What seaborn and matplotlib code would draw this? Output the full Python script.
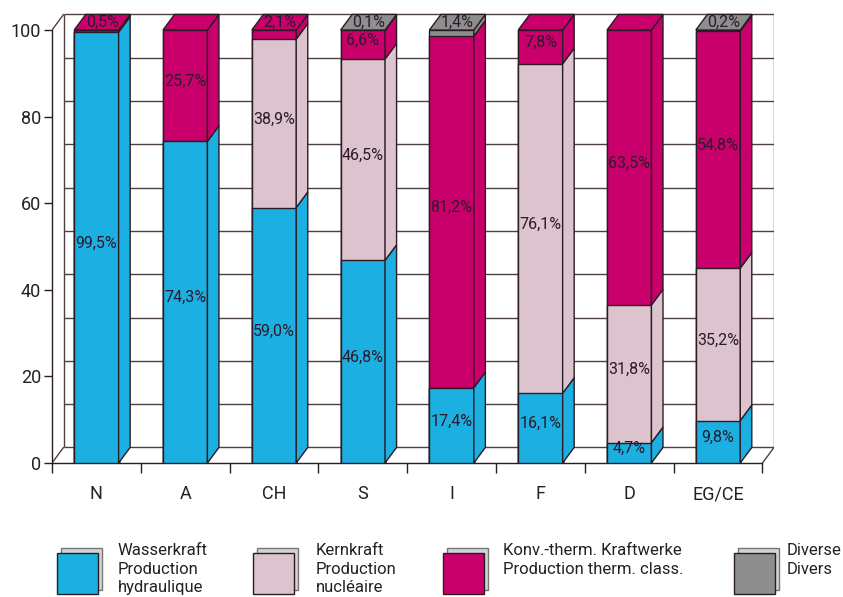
import numpy as np
import pandas as pd
import matplotlib
matplotlib.use('Agg')
import matplotlib.pyplot as plt
from matplotlib.patches import Polygon, Rectangle
import seaborn as sns

# data: share of electricity production per country (%)
countries = ['N', 'A', 'CH', 'S', 'I', 'F', 'D', 'EG/CE']
hydro = [99.5, 74.3, 59.0, 46.8, 17.4, 16.1, 4.7, 9.8]
nuclear = [0.0, 0.0, 38.9, 46.5, 0.0, 76.1, 31.8, 35.2]
thermal = [0.5, 25.7, 2.1, 6.6, 81.2, 7.8, 63.5, 54.8]
misc = [0.0, 0.0, 0.0, 0.1, 1.4, 0.0, 0.0, 0.2]
y_ticks = [0, 20, 40, 60, 80, 100]

legend_labels = ['Wasserkraft\nProduction\nhydraulique',
                 'Kernkraft\nProduction\nnucléaire',
                 'Konv.-therm. Kraftwerke\nProduction therm. class.',
                 'Diverse\nDivers']

#colours and pseudo 3d depth
colors = ['#1cb0e2', '#dcc3ce', '#c9006b', '#8e8e8e']
edge = '#2b1b24'
grid_col = '#4e3f42'
text_col = '#2a1a2a'
dx, dy = 0.13, 3.6
w = 0.5

sns.set_theme(style='white')
plt.rcParams['font.family'] = ['Roboto', 'DejaVu Sans']

df = pd.DataFrame({'country': countries, 'hydro': hydro, 'nuclear': nuclear,
                   'thermal': thermal, 'misc': misc})
series = ['hydro', 'nuclear', 'thermal', 'misc']
cum = df[series].cumsum(axis=1)

fig = plt.figure(figsize=(8.43, 5.97), dpi=100)
ax = fig.add_axes([52/843, 134/597, 722/843, 450.3/597])

#back wall and floor
xl, xr = -0.5, len(countries) - 0.5
gl = np.arange(0, 101, 10)
ax.hlines(gl + dy, xl + dx, xr + dx, color=grid_col, lw=1, zorder=1)
ax.vlines([xl + dx, xr + dx], dy, 100 + dy, color=grid_col, lw=1, zorder=1)
ax.plot([xl, xl + dx], [0, dy], color=grid_col, lw=1, zorder=1)
ax.plot([xl, xl + dx], [100, 100 + dy], color=grid_col, lw=1, zorder=1)
ax.plot([xr, xr + dx], [0, dy], color=grid_col, lw=1, zorder=1)

#front faces: cumulative bars from top series down
for k in range(len(series) - 1, -1, -1):
    sns.barplot(x=df['country'], y=cum[series[k]], color=colors[k], saturation=1,
                width=w, edgecolor=edge, linewidth=1, zorder=3, ax=ax)

#side and top faces
for i in range(len(countries)):
    lo = 0
    top_k = None
    for k, s in enumerate(series):
        v = df.loc[i, s]
        if v <= 0:
            continue
        hi = lo + v
        xs = i + w / 2
        ax.add_patch(Polygon([(xs, lo), (xs + dx, lo + dy), (xs + dx, hi + dy), (xs, hi)],
                             closed=True, fc=colors[k], ec=edge, lw=1, zorder=3))
        if v >= 3:
            lab = f"{v:.1f}".replace('.', ',') + '%'
            ax.text(i, lo + v / 2 + 1, lab, ha='center', va='center',
                    fontsize=11.5, color=text_col, zorder=5)
        top_k = k
        lo = hi
    xa = i - w / 2
    ax.add_patch(Polygon([(xa, lo), (xa + dx, lo + dy), (xa + w + dx, lo + dy), (xa + w, lo)],
                         closed=True, fc=colors[top_k], ec=edge, lw=1, zorder=3))
    v = df.loc[i, series[top_k]]
    if v < 3:
        lab = f"{v:.1f}".replace('.', ',') + '%'
        ax.text(i + dx / 2, lo + dy / 2, lab, ha='center', va='center',
                fontsize=11.5, color=text_col, zorder=5)

#axes styling
ax.set_xlim(xl, xr + dx)
ax.set_ylim(0, 104)
ax.set_xlabel('')
ax.set_ylabel('')
ax.grid(False)
for sp in ['top', 'right']:
    ax.spines[sp].set_visible(False)
ax.spines['left'].set_bounds(0, 100)
ax.spines['bottom'].set_bounds(xl, xr)
for sp in ['left', 'bottom']:
    ax.spines[sp].set_color(edge)
    ax.spines[sp].set_linewidth(1)
ax.set_yticks(y_ticks)
ax.set_xticks(range(len(countries)))
ax.set_xticklabels(countries)
ax.set_xticks(np.arange(xl, xr + 0.01, 1), minor=True)
ax.tick_params(axis='x', which='major', length=0, pad=16, labelsize=13, labelcolor='#222222')
ax.tick_params(axis='x', which='minor', length=7, width=1, color=edge, direction='out', bottom=True)
ax.tick_params(axis='y', length=6, width=1, color=edge, direction='out', left=True,
               pad=2, labelsize=13, labelcolor='#222222')

#legend at the bottom with stacked square icons
def fx(px):
    return px / 843

def fy(py):
    return 1 - py / 597

icon_x = [57, 253, 443, 734]
text_x = [118, 316, 503, 787]
for k in range(len(series)):
    x0 = icon_x[k]
    fig.add_artist(Rectangle((fx(x0 + 4), fy(590)), 41/843, 42/597, transform=fig.transFigure,
                             fc='#d4d4d4', ec='#777777', lw=1))
    fig.add_artist(Rectangle((fx(x0), fy(594)), 41/843, 41/597, transform=fig.transFigure,
                             fc=colors[k], ec=edge, lw=1))
    fig.text(fx(text_x[k]), fy(543), legend_labels[k], ha='left', va='top',
             fontsize=12, color='#222222', linespacing=1.3)

plt.savefig('out.png', dpi=100)
